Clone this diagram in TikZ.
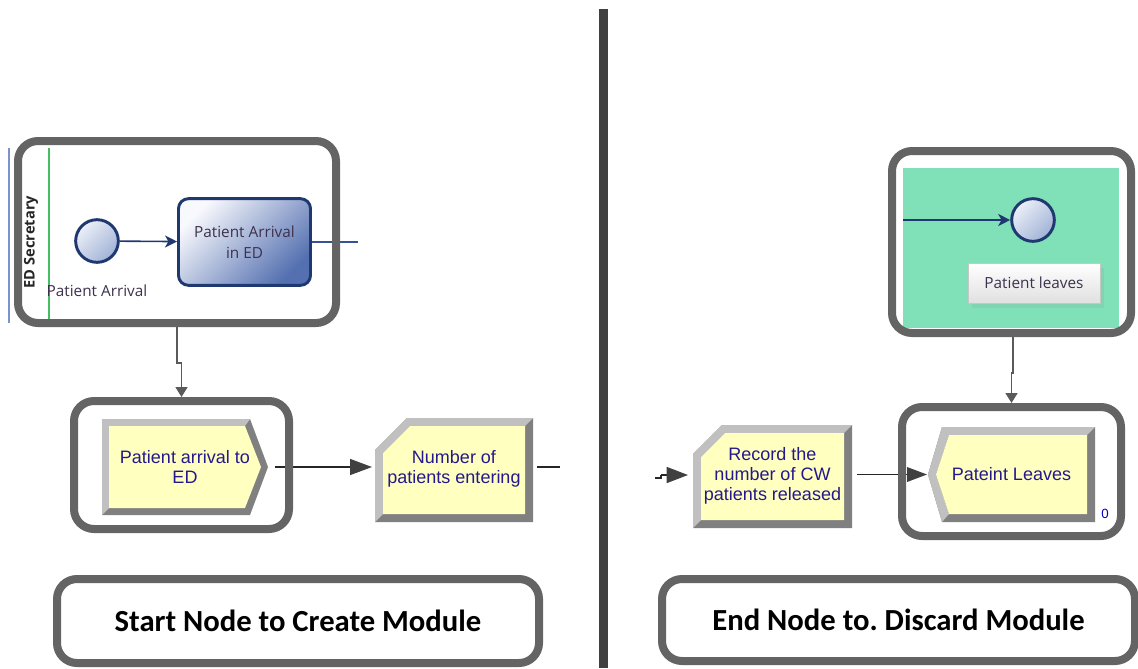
\documentclass[tikz,border=0pt]{standalone}
\usepackage{fontspec}
\setmainfont{Liberation Sans}
\newfontfamily\uifont{Open Sans}
\newfontfamily\labelfont{Carlito}
\usetikzlibrary{arrows.meta,calc,shadows}
\frenchspacing

\definecolor{calloutgray}{RGB}{100,100,100}
\definecolor{dividergray}{RGB}{64,64,64}
\definecolor{navy}{RGB}{31,56,112}
\definecolor{flowblue}{RGB}{52,82,150}
\definecolor{lanegreen}{RGB}{70,190,100}
\definecolor{laneblue}{RGB}{125,145,205}
\definecolor{poolgreen}{RGB}{128,224,184}
\definecolor{evtop}{RGB}{236,240,248}
\definecolor{evbot}{RGB}{160,178,214}
\definecolor{tasktop}{RGB}{248,249,253}
\definecolor{taskmid}{RGB}{226,232,244}
\definecolor{taskbot}{RGB}{84,112,176}
\definecolor{arenayellow}{RGB}{255,255,192}
\definecolor{bevlight}{RGB}{192,192,192}
\definecolor{bevdark}{RGB}{128,128,128}
\definecolor{arenatext}{RGB}{36,24,140}
\definecolor{uitext}{RGB}{60,50,78}
\definecolor{linkgray}{RGB}{90,90,90}
\definecolor{tipgray}{RGB}{64,64,64}

\tikzset{
  callout/.style={draw=calloutgray, line width=6pt, rounded corners=15pt, inner sep=0pt},
  biglabel/.style={font=\labelfont\bfseries\fontsize{23}{27}\selectfont, text=black},
  bpmnevent/.style={circle, draw=navy, line width=2.2pt, minimum size=32pt, inner sep=0pt,
    top color=evtop, bottom color=evbot, shading angle=45},
  bpmntask/.style={rectangle, rounded corners=7.5pt, draw=navy, line width=2.2pt,
    minimum width=99pt, minimum height=65pt, align=center, text=uitext,
    font=\uifont\fontsize{11.5}{15.5}\selectfont,
    top color=tasktop, middle color=taskmid, bottom color=taskbot, shading angle=45},
  bpmnflow/.style={draw=navy, line width=1.2pt, -{Stealth[length=9pt,width=9pt,inset=2.5pt]}},
  uilabel/.style={font=\uifont\fontsize{11.5}{14}\selectfont, text=uitext, inner sep=1pt},
  tooltip/.style={rectangle, draw=black!22, line width=0.6pt, top color=white, bottom color=black!12,
    minimum width=99pt, minimum height=30pt, font=\uifont\fontsize{11.5}{14}\selectfont, text=uitext,
    drop shadow={opacity=0.12, shadow xshift=3pt, shadow yshift=-4pt}},
  arenamod/.style={rectangle, inner sep=0pt, outer sep=0pt, align=center, text=arenatext,
    font=\fontsize{13.5}{15}\selectfont},
  arenaflow/.style={draw=black!85, line width=1.1pt},
  linkflow/.style={draw=linkgray, line width=1.2pt, -{Triangle[length=7.5pt,width=9pt]}},
}

\begin{document}
\begin{tikzpicture}[x=0.75pt,y=-0.75pt]
\useasboundingbox (0,0) rectangle (1138,668);

% ---- centre divider
\fill[dividergray] (599,9) rectangle (608,668);

% ================= left half: start event ==================
\draw[laneblue, line width=0.8pt] (9,148) -- (9,323);
\draw[lanegreen, line width=0.8pt] (49,148) -- (49,322);
\node[rotate=90, font=\uifont\bfseries\fontsize{11}{13}\selectfont, text=black!85] (lane) at (31,242) {ED Secretary};
\node[bpmnevent] (start) at (97,241) {};
\node[uilabel] (startlbl) at (97,291) {Patient Arrival};
\node[bpmntask] (task) at (244.5,242) {Patient Arrival\\in ED};
\draw[bpmnflow] (start) -- (task);
\coordinate (taskout) at (358,242);
\draw[flowblue, line width=0.8pt] (task) -- (taskout);

% Create module
\fill[bevdark] (102,419) -- (250,419) -- (268,467) -- (250,515) -- (102,515) -- cycle;
\fill[bevlight] (102,419) -- (250,419) -- (245,426) -- (109,426) -- (109,508) -- (102,515) -- cycle;
\fill[arenayellow] (109,426) -- (245,426) -- (261,467) -- (245,508) -- (109,508) -- cycle;
\node[arenamod, minimum width=124.5pt, minimum height=72pt] (create) at (185,467) {Patient arrival to\\ED};

% Record module (number entering)
\fill[bevdark] (375,450) -- (407,418) -- (533,418) -- (533,522) -- (375,522) -- cycle;
\fill[bevlight] (375,450) -- (407,418) -- (533,418) -- (525,426) -- (410,426) -- (383,453) -- (383,514) -- (375,522) -- cycle;
\fill[arenayellow] (383,453) -- (410,426) -- (525,426) -- (525,514) -- (383,514) -- cycle;
\node[arenamod, minimum width=118.5pt, minimum height=78pt] (count) at (454,469) {Number of\\patients entering};

\draw[arenaflow, shorten <=5.25pt, shorten >=2.25pt, -{Triangle[length=16.5pt,width=12pt,color=tipgray]}]
  (create.east) -- (create.east -| count.west);
\coordinate (countout) at (560,467);
\draw[arenaflow] (count.east |- countout) ++(3pt,0) -- (countout);

% callouts and labels
\node[callout, minimum width=238.5pt, minimum height=136.5pt] (cb1) at (177,232) {};
\node[callout, minimum width=161.25pt, minimum height=96pt] (cb2) at (181.5,465) {};
\draw[linkflow] (cb1.south) -- ++(0,36) -| (cb2.north);
\node[callout, biglabel, minimum width=361.5pt, minimum height=63pt] (lbl1) at (298,621) {Start Node to Create Module};

% ================= right half: end event ==================
\fill[poolgreen] (903,168) rectangle (1119,328);
\coordinate (poolin) at (903,220);
\node[bpmnevent] (endev) at (1033,220) {};
\draw[bpmnflow] (poolin) -- (endev);
\node[tooltip] (endlbl) at (1034,283) {Patient leaves};

% Record module (CW released)
\fill[bevdark] (693,454) -- (722,425) -- (852,425) -- (852,528) -- (693,528) -- cycle;
\fill[bevlight] (693,454) -- (722,425) -- (852,425) -- (844,433) -- (725,433) -- (701,457) -- (701,520) -- (693,528) -- cycle;
\fill[arenayellow] (701,457) -- (725,433) -- (844,433) -- (844,520) -- (701,520) -- cycle;
\node[arenamod, minimum width=119.25pt, minimum height=77.25pt] (record) at (772.5,476) {Record the\\number of CW\\patients released};

% Dispose module
\fill[bevdark] (942,427) -- (1095,427) -- (1095,522) -- (942,522) -- (928,474.5) -- cycle;
\fill[bevlight] (928,474.5) -- (942,427) -- (1095,427) -- (1087,435) -- (949,435) -- (936,474.5) -- (949,514) -- (942,522) -- cycle;
\fill[arenayellow] (936,474.5) -- (949,435) -- (1087,435) -- (1087,514) -- (949,514) -- cycle;
\node[arenamod, minimum width=125.25pt, minimum height=71.25pt] (dispose) at (1011.5,474.5) {Pateint Leaves};
\node[text=blue!80!black, font=\fontsize{10}{11}\selectfont, inner sep=0pt] (dispcount) at (1105,514) {0};

\coordinate (recin) at (655,478);
\draw[arenaflow] (recin) -- ++(6,0) -- ++(0,-3) coordinate (recstep);
\draw[arenaflow, shorten >=3.75pt, -{Triangle[length=16pt,width=12pt,color=tipgray]}]
  (recstep) -- (recstep -| record.west);
\draw[arenaflow, shorten <=3.75pt, shorten >=0.75pt, -{Triangle[length=15pt,width=11pt,color=tipgray]}]
  (record.east |- dispose.west) -- (dispose.west);

% callouts and labels
\node[callout, minimum width=179.25pt, minimum height=136.5pt] (cb3) at (1011.5,242) {};
\node[callout, minimum width=164.25pt, minimum height=96.75pt] (cb4) at (1011.5,471.5) {};
\draw[linkflow] ([xshift=1.2pt]cb3.south) -- ++(0,36) -| (cb4.north);
\node[callout, biglabel, minimum width=354.75pt, minimum height=61.5pt] (lbl2) at (898.5,620) {End Node to. Discard Module};

\end{tikzpicture}
\end{document}
